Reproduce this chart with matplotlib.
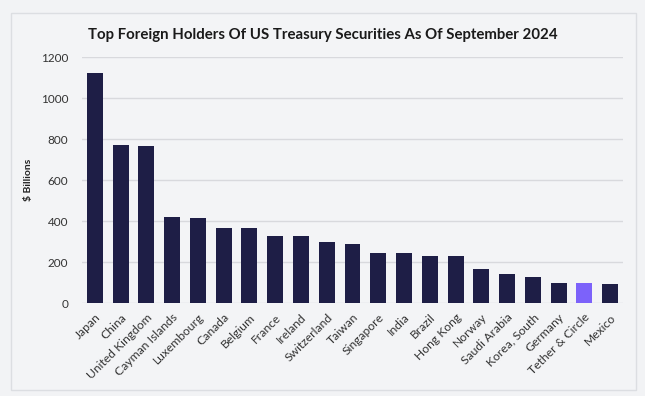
import matplotlib.pyplot as plt
from matplotlib.patches import Rectangle

plt.rcParams['font.family'] = ['Lato', 'DejaVu Sans']

# Data (in $ billions)
countries = ['Japan', 'China', 'United Kingdom', 'Cayman Islands', 'Luxembourg',
             'Canada', 'Belgium', 'France', 'Ireland', 'Switzerland', 'Taiwan',
             'Singapore', 'India', 'Brazil', 'Hong Kong', 'Norway', 'Saudi Arabia',
             'Korea, South', 'Germany', 'Tether & Circle', 'Mexico']
holdings = [1123, 772, 765, 419, 415, 369, 365, 328, 326, 301, 288,
            247, 246, 232, 231, 169, 143, 127, 99, 98, 93]
highlight = 'Tether & Circle'
yticks = [0, 200, 400, 600, 800, 1000, 1200]

navy = '#1e1e46'
purple = '#7c62fa'
colors = [purple if c == highlight else navy for c in countries]

fig = plt.figure(figsize=(6.45, 3.96), dpi=100)
fig.patch.set_facecolor('#f2f3f5')

# panel behind the chart
panel = Rectangle((11 / 645, 1 - 390 / 396), 625 / 645, 377 / 396,
                  transform=fig.transFigure, facecolor='#f3f4f6',
                  edgecolor='#dcdee2', linewidth=1, zorder=-5)
fig.patches.append(panel)

ax = fig.add_axes([82 / 645, 1 - 303.3 / 396, 541 / 645, 246 / 396])
ax.set_facecolor('none')
ax.set_zorder(2)

x = range(len(countries))
ax.bar(x, holdings, width=0.62, color=colors, zorder=3)

ax.set_xlim(-0.5, len(countries) - 0.5)
ax.set_ylim(0, 1200)
ax.set_yticks(yticks)
ax.set_yticklabels([str(v) for v in yticks], fontsize=8.5, color='#333333')
ax.set_xticks(list(x))
ax.set_xticklabels(countries, rotation=45, ha='right', rotation_mode='anchor',
                   fontsize=8.7, color='#333333')
ax.tick_params(length=0, pad=6)
ax.tick_params(axis='y', pad=10)
ax.grid(axis='y', color='#d8d9dd', linewidth=1, zorder=0)
for s in ax.spines.values():
    s.set_visible(False)

ax.set_ylabel(r'\$ Billions', fontsize=7.5, fontweight='bold', color='#222222')
ax.yaxis.set_label_coords(-0.09, 0.5)

fig.text(323 / 645, 1 - 35 / 396,
         'Top Foreign Holders Of US Treasury Securities As Of September 2024',
         ha='center', va='center', fontsize=10.8, fontweight='bold',
         color='#1a1a1a')

fig.savefig('out.png', dpi=100, facecolor=fig.get_facecolor())
